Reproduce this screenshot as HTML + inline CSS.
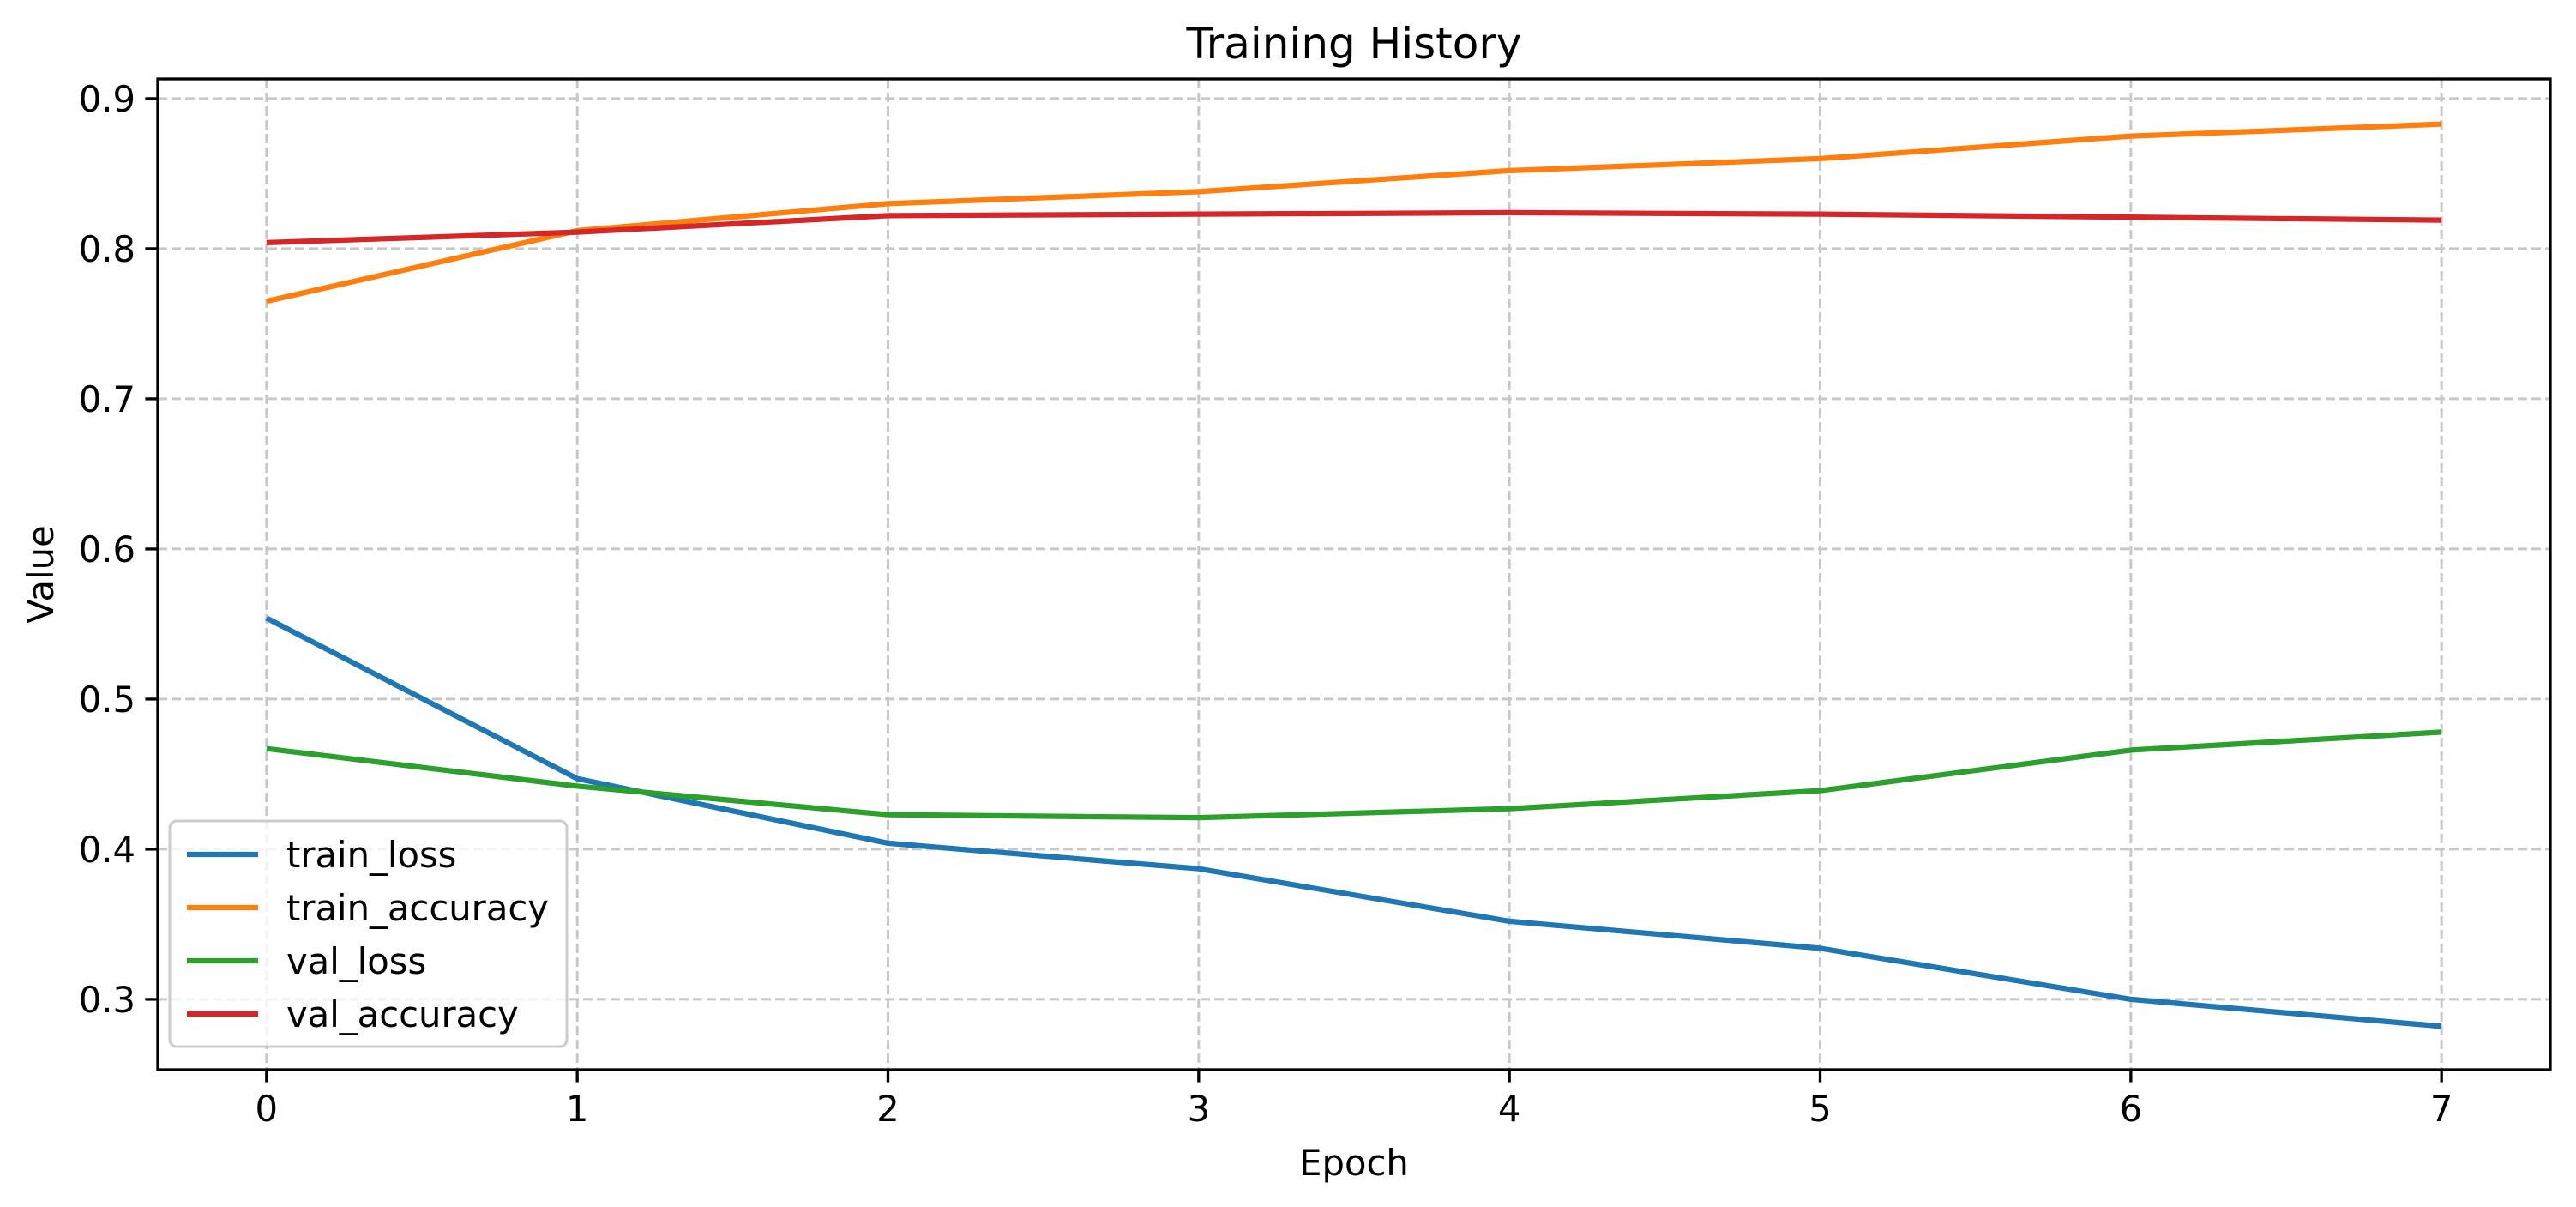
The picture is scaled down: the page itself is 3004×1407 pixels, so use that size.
<!DOCTYPE html>
<html><head><meta charset="utf-8"><style>html,body{margin:0;padding:0;background:#fff}svg{display:block}text{font-family:"DejaVu Sans","Liberation Sans",sans-serif;fill:#000}</style></head>
<body>
<svg id="chart" width="3004" height="1407" viewBox="0 0 3004 1407" xmlns="http://www.w3.org/2000/svg"></svg>
<script>
const epochs = [0,1,2,3,4,5,6,7];
const trainLoss = [0.554,0.447,0.404,0.387,0.352,0.334,0.300,0.282];
const trainAcc = [0.765,0.812,0.830,0.838,0.852,0.860,0.875,0.883];
const valLoss = [0.467,0.442,0.423,0.421,0.427,0.439,0.466,0.478];
const valAcc = [0.804,0.811,0.822,0.823,0.824,0.823,0.821,0.819];
const yTicks = [0.3,0.4,0.5,0.6,0.7,0.8,0.9];
const seriesNames = ["train_loss","train_accuracy","val_loss","val_accuracy"];

const NS="http://www.w3.org/2000/svg";
const svg=document.getElementById('chart');
const L=184,R=2974,T=92,B=1247;
const xMin=-0.35,xMax=7.35,yMin=0.2531,yMax=0.9131;
const xS=v=>L+(v-xMin)/(xMax-xMin)*(R-L);
const yS=v=>B-(v-yMin)/(yMax-yMin)*(B-T);
function mk(tag,attrs,parent){const e=document.createElementNS(NS,tag);for(const k in attrs)e.setAttribute(k,attrs[k]);(parent||svg).appendChild(e);return e;}

const grid=mk('g',{});


epochs.forEach(e=>{const l=mk('line',{x1:xS(e),x2:xS(e),y1:T,y2:B,stroke:'#c8c8c8','stroke-width':3,'stroke-dasharray':'11 5'},grid);

});
yTicks.forEach(v=>{const l=mk('line',{x1:L,x2:R,y1:yS(v),y2:yS(v),stroke:'#c8c8c8','stroke-width':3,'stroke-dasharray':'11 5'},grid);

});

const colors=["#1f77b4","#ff7f0e","#2ca02c","#d62728"];
const data=[trainLoss,trainAcc,valLoss,valAcc];
data.forEach((arr,i)=>{const p=mk('polyline',{points:arr.map((v,j)=>xS(epochs[j])+','+yS(v)).join(' '),fill:'none',stroke:colors[i],'stroke-width':6.25,'stroke-linejoin':'round'});

});

const frame=mk('rect',{x:L,y:T,width:R-L,height:B-T,fill:'none',stroke:'#000','stroke-width':3.3});



epochs.forEach(e=>{mk('line',{x1:xS(e),x2:xS(e),y1:B,y2:B+14.6,stroke:'#000','stroke-width':3.3});
const t=mk('text',{x:xS(e),y:B+60,'font-size':41.7,'text-anchor':'middle'});t.textContent=e;

});
yTicks.forEach(v=>{mk('line',{x1:L-14.6,x2:L,y1:yS(v),y2:yS(v),stroke:'#000','stroke-width':3.3});
const t=mk('text',{x:L-26,y:yS(v)+15,'font-size':41.7,'text-anchor':'end'});t.textContent=v.toFixed(1);

});

const title=mk('text',{x:(L+R)/2,y:68,'font-size':50,'text-anchor':'middle'});title.textContent='Training History';


const xt=mk('text',{x:(L+R)/2,y:1370,'font-size':41.7,'text-anchor':'middle'});xt.textContent='Epoch';


const yt=mk('text',{x:0,y:0,'font-size':41.7,'text-anchor':'middle',transform:'translate(62,'+((T+B)/2)+') rotate(-90)'});yt.textContent='Value';



const lg=mk('g',{});


mk('rect',{x:198,y:957,width:463,height:263,rx:8,fill:'#fff','fill-opacity':0.8,stroke:'#cccccc','stroke-width':3},lg);
seriesNames.forEach((n,i)=>{const y=996+i*62;
const g=mk('g',{},lg);


mk('line',{x1:218,x2:301,y1:y,y2:y,stroke:colors[i],'stroke-width':6.25},g);
const t=mk('text',{x:334,y:y+15,'font-size':41.7},g);t.textContent=n;});
</script>
</body></html>
